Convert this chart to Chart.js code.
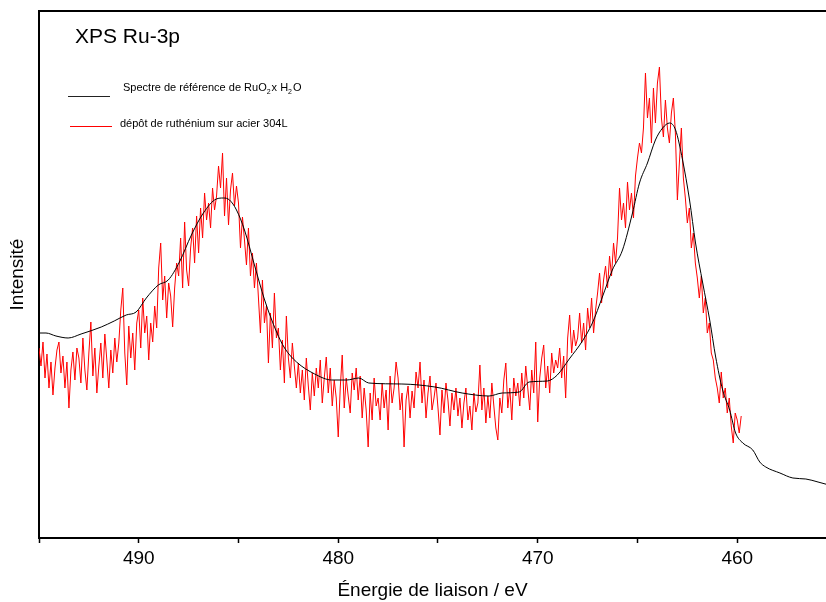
<!DOCTYPE html>
<html><head><meta charset="utf-8">
<script src="https://cdn.jsdelivr.net/npm/chart.js@4"></script>
<style>html,body{margin:0;padding:0;background:#fff;}canvas{display:block;}</style>
</head><body>
<canvas id="c" width="826" height="602"></canvas>
<script>
const chartTitle = 'XPS Ru-3p';
const xAxisTitle = 'Énergie de liaison / eV';
const yAxisTitle = 'Intensité';
const legendRefParts = ['Spectre de référence de RuO', '2', 'x H', '2', 'O'];
const legendDeposit = 'dépôt de ruthénium sur acier 304L';
const xMajorTicks = [490, 480, 470, 460];
const xMinorTicks = [495, 485, 475, 465];
const xMin = 455.55, xMax = 495;
const yMin = 0, yMax = 527;

// Reference spectrum RuO2 x H2O (black)
const blackEnergy = [495.00, 494.65, 494.15, 493.54, 492.89, 491.88, 491.23, 490.63, 490.13, 489.62, 489.02, 488.52, 487.96, 487.36, 486.76, 486.11, 485.75, 485.45, 485.10, 484.70, 484.20, 483.69, 483.09, 482.69, 482.09, 481.18, 480.33, 479.57, 478.97, 478.47, 476.81, 475.15, 473.79, 472.44, 471.78, 470.93, 470.43, 469.52, 469.02, 468.42, 467.76, 467.26, 466.76, 466.26, 465.75, 465.25, 464.90, 464.50, 464.10, 463.74, 463.39, 463.09, 462.74, 462.39, 462.09, 461.73, 461.38, 461.08, 460.73, 460.38, 460.08, 459.72, 459.22, 458.87, 458.57, 457.86, 457.21, 456.56, 455.95, 455.40];
const blackIntensity = [205, 205, 202, 200, 204, 211, 217, 223, 226, 240, 253, 258, 276, 303, 325, 339, 340, 338, 328, 308, 273, 238, 206, 190, 176, 164, 158, 158, 160, 155, 154, 151, 145, 142, 145, 146, 156, 157, 163, 179, 197, 215, 241, 268, 288, 325, 355, 375, 398, 410, 415, 408, 378, 338, 295, 255, 218, 181, 148, 128, 105, 95, 88, 76, 71, 65, 60, 59, 56, 53];

// Ruthenium deposit on 304L steel (red), 0.1 eV channels from 495.0 eV downward
const redStartEV = 495.0, redStepEV = 0.1;
const redIntensity = [
190, 172, 196, 160, 184, 150, 176, 143, 170, 188,
196, 165, 182, 150, 176, 130, 168, 186, 158, 190,
180, 155, 200, 168, 148, 185, 216, 162, 190, 145,
172, 195, 160, 204, 178, 150, 188, 165, 200, 176,
195, 228, 250, 185, 153, 212, 180, 205, 168, 215,
228, 190, 240, 205, 222, 178, 215, 196, 232, 210,
270, 295, 238, 262, 220, 255, 242, 211, 250, 275,
262, 300, 250, 316, 268, 252, 290, 310, 275, 322,
285, 330, 300, 345, 318, 335, 310, 350, 328, 342,
372, 350, 385, 322, 360, 313, 348, 365, 332, 352,
335, 290, 321, 298, 273, 310, 262, 285, 250, 275,
240, 205, 258, 215, 232, 175, 225, 190, 245, 200,
210, 168, 198, 155, 222, 180, 160, 195, 172, 150,
175, 145, 168, 138, 180, 152, 128, 165, 142, 170,
150, 178, 135, 160, 181, 145, 170, 132, 158, 140,
101, 150, 183, 130, 160, 142, 125, 165, 148, 170,
138, 162, 120, 150, 128, 91, 145, 118, 160, 132,
140, 118, 155, 130, 148, 108, 162, 135, 150, 176,
160, 128, 145, 91, 138, 152, 120, 147, 130, 166,
150, 176, 135, 158, 120, 145, 162, 128, 140, 155,
130, 103, 148, 125, 155, 138, 112, 145, 128, 150,
122, 140, 110, 135, 150, 118, 132, 108, 145, 126,
135, 173, 128, 150, 115, 142, 120, 155, 132, 110,
98, 140, 125, 158, 175, 130, 150, 118, 160, 142,
155, 132, 165, 140, 172, 150, 128, 168, 145, 196,
116, 160, 180, 193, 150, 172, 145, 185, 165, 178,
170, 190, 160, 182, 140, 200, 223, 185, 208, 192,
200, 225, 195, 215, 188, 230, 210, 240, 205, 228,
245, 265, 235, 258, 272, 250, 282, 262, 295, 275,
300, 350, 318, 335, 310, 356, 328, 345, 320, 362,
380, 395, 385, 410, 465, 420, 440, 395, 450, 415,
455, 471, 420, 401, 438, 410, 395, 425, 440, 405,
338, 375, 410, 360, 340, 315, 330, 290, 305, 275,
260, 240, 262, 225, 240, 205, 215, 185, 178, 160,
150, 135, 166, 140, 150, 125, 140, 112, 95, 125,
118, 105, 122
];

const FONT = '"Liberation Sans", Arial, Helvetica, sans-serif';

const blackData = blackEnergy.map((e, i) => ({ x: e, y: blackIntensity[i] }));
const redData = redIntensity.map((v, i) => ({ x: +(redStartEV - i * redStepEV).toFixed(2), y: v }));

const overlay = {
  id: 'overlay',
  afterDraw(chart) {
    const ctx = chart.ctx, a = chart.chartArea;
    ctx.save();
    // top frame line
    ctx.strokeStyle = '#000';
    ctx.lineWidth = 2;
    ctx.beginPath();
    ctx.moveTo(a.left - 1, a.top);
    ctx.lineTo(chart.width, a.top);
    ctx.stroke();
    // title
    ctx.fillStyle = '#000';
    ctx.textBaseline = 'alphabetic';
    ctx.textAlign = 'left';
    ctx.font = '21px ' + FONT;
    ctx.fillText(chartTitle, 75, 43);
    // legend lines
    ctx.lineWidth = 1;
    ctx.strokeStyle = '#222';
    ctx.beginPath(); ctx.moveTo(68, 96.5); ctx.lineTo(110, 96.5); ctx.stroke();
    ctx.strokeStyle = '#ff0000';
    ctx.beginPath(); ctx.moveTo(70, 126.5); ctx.lineTo(112, 126.5); ctx.stroke();
    // legend texts
    let x = 123;
    legendRefParts.forEach((t, i) => {
      const sub = (i === 1 || i === 3);
      ctx.font = (sub ? '7px ' : '11px ') + FONT;
      ctx.fillText(t, x, sub ? 94 : 91);
      x += ctx.measureText(t).width + (sub ? 1 : 0);
    });
    ctx.font = '11px ' + FONT;
    ctx.fillText(legendDeposit, 120, 127);
    ctx.restore();
  }
};

new Chart(document.getElementById('c'), {
  type: 'line',
  data: {
    datasets: [
      { label: 'Spectre de référence de RuO2 x H2O', data: blackData, borderColor: '#000', borderWidth: 1,
        pointRadius: 0, cubicInterpolationMode: 'monotone', fill: false, order: 0 },
      { label: legendDeposit, data: redData, borderColor: '#ff0000', borderWidth: 1,
        pointRadius: 0, tension: 0, fill: false, order: 1 }
    ]
  },
  options: {
    responsive: false,
    animation: false,
    devicePixelRatio: 1,
    layout: { padding: { top: 11, left: 0, right: 0, bottom: 0 } },
    plugins: { legend: { display: false }, tooltip: { enabled: false }, title: { display: false } },
    scales: {
      x: {
        type: 'linear', reverse: true, min: xMin, max: xMax,
        afterBuildTicks: (s) => { s.ticks = [...xMajorTicks, ...xMinorTicks].sort((p, q) => p - q).map(v => ({ value: v })); },
        afterFit: (s) => { s.height = 64; },
        ticks: { color: '#000', font: { family: FONT, size: 19 }, padding: 4, maxRotation: 0, autoSkip: false,
          callback: (v) => xMajorTicks.includes(v) ? String(v) : '' },
        grid: { display: true, drawOnChartArea: false, drawTicks: true, tickLength: 5, color: '#000', tickWidth: 1.5 },
        border: { display: true, color: '#000', width: 2 },
        title: { display: true, text: xAxisTitle, color: '#000', font: { family: FONT, size: 19 }, padding: { top: 0, bottom: 0 } }
      },
      y: {
        type: 'linear', min: yMin, max: yMax,
        afterFit: (s) => { s.width = 39; },
        ticks: { display: false },
        grid: { display: true, drawOnChartArea: false, drawTicks: false },
        border: { display: true, color: '#000', width: 2 },
        title: { display: true, text: yAxisTitle, color: '#000', font: { family: FONT, size: 19 }, padding: { top: 6, bottom: 0 } }
      }
    }
  },
  plugins: [overlay]
});
</script>
</body></html>
